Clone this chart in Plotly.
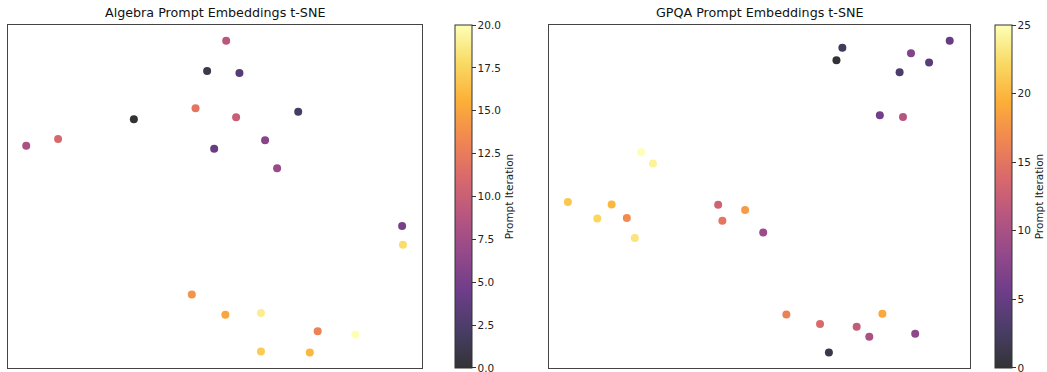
import plotly.graph_objects as go
import plotly.colors as pc

# ---- data (arbitrary t-SNE units) ----
alg_x = [30.4, 48.1, 70.1, 55.9, 49.8, 95.2, 62.1, 65.0, 4.4, 52.7, 55.1,
         12.1, 45.3, 74.8, 44.4, 52.5, 72.9, 61.1, 95.4, 61.1, 83.9]
alg_y = [72.5, 86.6, 74.7, 86.0, 63.9, 41.4, 66.4, 58.2, 64.8, 95.4, 73.1,
         66.8, 75.7, 10.7, 21.4, 15.5, 4.5, 4.8, 35.9, 16.0, 9.8]
alg_iter = list(range(21))

gpqa_x = [68.4, 66.6, 69.8, 83.4, 90.4, 95.3, 78.7, 86.1, 87.1, 51.0, 76.2,
          84.2, 73.2, 40.3, 64.5, 41.3, 56.5, 18.6, 46.7, 79.3, 15.0, 4.6,
          11.6, 20.5, 24.8, 22.0]
gpqa_y = [89.7, 4.5, 93.4, 86.2, 89.1, 95.4, 73.7, 91.8, 10.0, 39.5, 9.1,
          73.2, 12.0, 47.6, 12.8, 42.9, 15.6, 43.7, 46.1, 15.8, 47.7, 48.4,
          43.6, 37.9, 59.6, 62.9]
gpqa_iter = list(range(26))

titles = ["Algebra Prompt Embeddings t-SNE", "GPQA Prompt Embeddings t-SNE"]
cbar_title = "Prompt Iteration"

# inferno blended with white at alpha 0.8
base = pc.sequential.Inferno
def blend(h, a=0.8):
    r, g, b = pc.hex_to_rgb(h)
    return "rgb(%d,%d,%d)" % (round(r * a + 255 * (1 - a)), round(g * a + 255 * (1 - a)), round(b * a + 255 * (1 - a)))
cscale = [[i / (len(base) - 1), blend(c)] for i, c in enumerate(base)]

W, H = 1047, 372
fig = go.Figure()

def px(v):
    return v / W

top, bottom = 25, 368
ydom = [1 - bottom / H, 1 - top / H]

panels = [
    dict(x=alg_x, y=alg_y, c=alg_iter, cmax=20, dtick=2.5, fmt=".1f",
         xdom=[px(8), px(422)], cbx=px(455), xa="x", ya="y"),
    dict(x=gpqa_x, y=gpqa_y, c=gpqa_iter, cmax=25, dtick=5, fmt="d",
         xdom=[px(548.5), px(969.5)], cbx=px(995), xa="x2", ya="y2"),
]

eps = 1e-3
for i, p in enumerate(panels):
    fig.add_trace(go.Scatter(
        x=p["x"], y=p["y"], mode="markers", xaxis=p["xa"], yaxis=p["ya"],
        marker=dict(size=8, color=p["c"], colorscale=cscale, cmin=-eps, cmax=p["cmax"] + eps,
                    line=dict(width=0),
                    colorbar=dict(
                        x=p["cbx"], xanchor="left", xref="paper",
                        y=(ydom[0] + ydom[1]) / 2, yanchor="middle",
                        len=bottom - top, lenmode="pixels",
                        thickness=17, thicknessmode="pixels",
                        outlinewidth=1, outlinecolor="#333",
                        ticks="outside", ticklen=3.5, tickwidth=1, tickcolor="#333",
                        tick0=0, dtick=p["dtick"], tickformat=p["fmt"],
                        ticklabeloverflow="allow",
                        tickfont=dict(family="DejaVu Sans", size=10.5, color="#222"),
                        title=dict(text=cbar_title, side="right",
                                   font=dict(family="DejaVu Sans", size=10.5, color="#222")),
                        xpad=0, ypad=0,
                    )),
        showlegend=False, hoverinfo="skip",
    ))
    axis_common = dict(showgrid=False, zeroline=False, showticklabels=False, ticks="",
                       showline=True, mirror=True, linecolor="#444", linewidth=1)
    sfx = "" if i == 0 else "2"
    fig.update_layout(**{
        "xaxis" + sfx: dict(domain=p["xdom"], range=[0, 100], anchor="y" + sfx, **axis_common),
        "yaxis" + sfx: dict(domain=ydom, range=[0, 100], anchor="x" + sfx, **axis_common),
    })
    fig.add_annotation(text=titles[i], x=(p["xdom"][0] + p["xdom"][1]) / 2, y=1 - 13 / H,
                       xref="paper", yref="paper", showarrow=False, xanchor="center", yanchor="middle",
                       font=dict(family="DejaVu Sans", size=12.7, color="#111"))

fig.update_layout(width=W, height=H, margin=dict(l=0, r=0, t=0, b=0, autoexpand=False),
                  paper_bgcolor="white", plot_bgcolor="white")
fig.write_html("out.html", config={"displayModeBar": False},
               post_script="document.body.style.margin='0px';document.body.style.overflow='hidden';")
